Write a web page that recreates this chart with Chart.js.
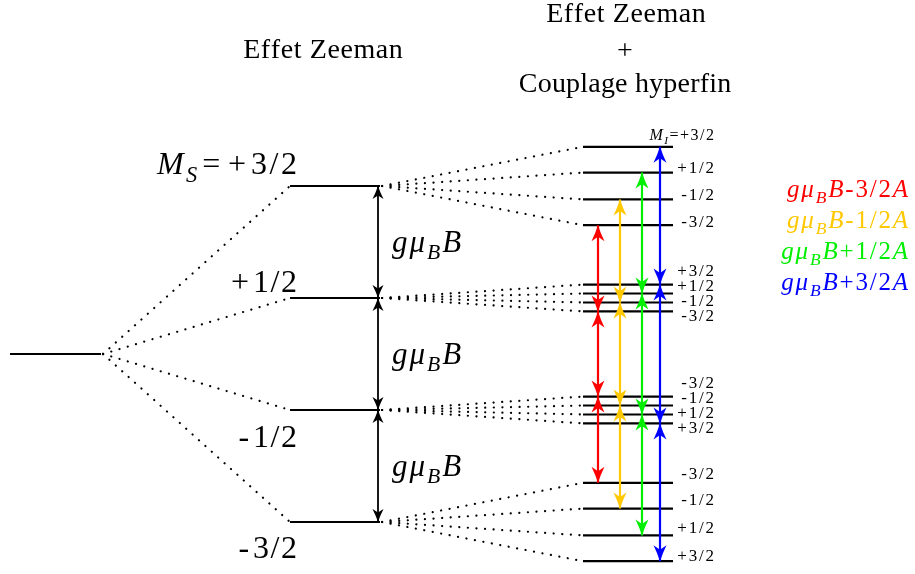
<!DOCTYPE html>
<html>
<head>
<meta charset="utf-8">
<script src="https://cdn.jsdelivr.net/npm/chart.js@4.4.0/dist/chart.umd.min.js"></script>
<style>
  body { margin: 0; background: #fff; }
  #wrap { width: 915px; height: 574px; position: relative; }
</style>
</head>
<body>
<div id="wrap"><canvas id="levels"></canvas></div>
<script>
// energies in units of g.muB.B, 0 = level without field
const msLabels = ['+3/2', '+1/2', '-1/2', '-3/2'];
const msEnergy = [1.5, 0.5, -0.5, -1.5];

// hyperfine sublevels of each Ms, top to bottom
const hfLabels = [
  ['+3/2', '+1/2', '-1/2', '-3/2'],
  ['+3/2', '+1/2', '-1/2', '-3/2'],
  ['-3/2', '-1/2', '+1/2', '+3/2'],
  ['-3/2', '-1/2', '+1/2', '+3/2']
];
const hfEnergy = [
  [1.85, 1.62, 1.38, 1.15],
  [0.62, 0.54, 0.46, 0.38],
  [-0.38, -0.46, -0.54, -0.62],
  [-1.15, -1.38, -1.62, -1.85]
];

// transitions, one colour per M_I
const transMI = ['-3/2', '-1/2', '+1/2', '+3/2'];
const transText = ['-3/2', '-1/2', '+1/2', '+3/2'];
const transColors = ['#ff0000', '#ffc800', '#00ee00', '#0000ff'];

// layout (pixels)
const X = { ground: [10, 101], ms: [290, 380], hf: [583, 673], zArrow: 378, hfText: 714, tArrow: [598, 620, 642, 660] };
const FONT = '"Liberation Serif", "Times New Roman", serif';

const pt = (x, y) => ({ x: x, y: y });
const datasets = [];
const line = (data, color, extra) => datasets.push(Object.assign({
  data: data, showLine: true, borderColor: color, borderWidth: 2.2, pointRadius: 0, fill: false, order: 1
}, extra || {}));

// levels
line([pt(X.ground[0], 0), pt(X.ground[1], 0)], '#000');
msEnergy.forEach(e => line([pt(X.ms[0], e), pt(X.ms[1], e)], '#000'));
hfEnergy.forEach(g => g.forEach(e => line([pt(X.hf[0], e), pt(X.hf[1], e)], '#000')));

// dotted correlation lines
const dots = { borderWidth: 2.2, borderDash: [0.1, 8.5], borderCapStyle: 'round', order: 2 };
msEnergy.forEach(e => line([pt(X.ground[1] + 2, 0), pt(X.ms[0], e)], '#000', dots));
msEnergy.forEach((e, i) => hfEnergy[i].forEach(h => line([pt(X.ms[1] + 2, e), pt(X.hf[0], h)], '#000', dots)));

// Zeeman arrows
for (let i = 0; i < msEnergy.length - 1; i++) {
  line([pt(X.zArrow, msEnergy[i]), pt(X.zArrow, msEnergy[i + 1])], '#000',
    { borderWidth: 1.8, order: 0, head: { len: 13, wid: 11, notch: 3.5 } });
}
// hyperfine transitions
transMI.forEach((mi, k) => {
  const ys = hfEnergy.map((g, gi) => g[hfLabels[gi].indexOf(mi)]);
  for (let g = 0; g < ys.length - 1; g++) {
    line([pt(X.tArrow[k], ys[g]), pt(X.tArrow[k], ys[g + 1])], transColors[k],
      { borderWidth: 2.2, order: 0, head: { len: 16, wid: 13, notch: 4.5 } });
  }
});

// text with italics and subscripts
function rich(ctx, parts, x, y, o) {
  const size = o.size, ls = o.ls || 0;
  const segs = [];
  let w = 0;
  parts.forEach(p => {
    const t = typeof p === 'string' ? p : p[0];
    const st = typeof p === 'string' ? '' : p[1];
    const sub = st.indexOf('s') >= 0;
    const fs = sub ? size * 0.7 : size;
    const font = (st.indexOf('i') >= 0 ? 'italic ' : '') + fs + 'px ' + FONT;
    const pad = st.indexOf('p') >= 0 ? size * 0.08 : 0;
    ctx.font = font;
    for (const ch of t) {
      w += pad;
      segs.push({ ch: ch, font: font, dx: w, dy: sub ? size * 0.24 : 0 });
      w += ctx.measureText(ch).width + ls + pad;
    }
  });
  w -= ls;
  const x0 = o.align === 'right' ? x - w : o.align === 'center' ? x - w / 2 : x;
  ctx.fillStyle = o.color || '#000';
  ctx.textAlign = 'left';
  ctx.textBaseline = 'alphabetic';
  segs.forEach(s => { ctx.font = s.font; ctx.fillText(s.ch, x0 + s.dx, y + s.dy); });
}

const arrowHeads = {
  id: 'arrowHeads',
  afterDatasetsDraw(chart) {
    const ctx = chart.ctx;
    chart.data.datasets.forEach((ds, i) => {
      if (!ds.head) return;
      const pts = chart.getDatasetMeta(i).data;
      const ends = [[pts[0], pts[1]], [pts[1], pts[0]]];
      ends.forEach(([tip, from]) => {
        const a = Math.atan2(tip.y - from.y, tip.x - from.x);
        const h = ds.head;
        ctx.save();
        ctx.translate(tip.x, tip.y);
        ctx.rotate(a);
        ctx.beginPath();
        ctx.moveTo(0, 0);
        ctx.quadraticCurveTo(-h.len * 0.5, -h.wid * 0.2, -h.len, -h.wid / 2);
        ctx.lineTo(-h.len + h.notch, 0);
        ctx.lineTo(-h.len, h.wid / 2);
        ctx.quadraticCurveTo(-h.len * 0.5, h.wid * 0.2, 0, 0);
        ctx.closePath();
        ctx.fillStyle = ds.borderColor;
        ctx.fill();
        ctx.restore();
      });
    });
  }
};

const labels = {
  id: 'labels',
  afterDraw(chart) {
    const ctx = chart.ctx;
    const ys = v => chart.scales.y.getPixelForValue(v);
    ctx.save();
    // titles
    rich(ctx, ['Effet Zeeman'], 323, 58, { size: 28, align: 'center', ls: 0.6 });
    rich(ctx, ['Effet Zeeman'], 626, 22, { size: 28, align: 'center', ls: 0.6 });
    rich(ctx, ['+'], 625, 59, { size: 28, align: 'center' });
    rich(ctx, ['Couplage hyperfin'], 625, 92, { size: 28, align: 'center', ls: 0.2 });

    // Ms labels
    const msOff = [-12, -6, 37, 36];
    msLabels.forEach((t, i) => {
      const parts = i === 0 ? [['M', 'i'], ['S', 'si'], ['=', 'p'], ['+', 'p'], t.slice(1)] : [[t[0], 'p'], t.slice(1)];
      rich(ctx, parts, 297, ys(msEnergy[i]) + msOff[i], { size: 32, align: 'right', ls: i === 0 ? 2.5 : 1.5 });
    });

    // g muB B
    for (let i = 0; i < msEnergy.length - 1; i++) {
      const yc = (ys(msEnergy[i]) + ys(msEnergy[i + 1])) / 2;
      rich(ctx, [['g', 'i'], ['\u03bc', 'i'], ['B', 'si'], ['B', 'i']], 392, yc + 10, { size: 31, ls: 2 });
    }

    // hyperfine labels
    hfLabels.forEach((g, gi) => {
      g.forEach((t, j) => {
        let y;
        if (gi === 1 || gi === 2) y = ys(msEnergy[gi]) + [-22, -7, 8, 23][j];
        else y = ys(hfEnergy[gi][j]) + (gi === 0 ? [-7, 0, 1, 2] : [-4, -4, -2, 0])[j];
        const top = gi === 0 && j === 0;
        const parts = top ? [['M', 'i'], ['I', 'si'], '=', t] : [t];
        rich(ctx, parts, X.hfText, y, { size: top ? 16 : 17, align: 'right', ls: top ? 1.5 : 1.8 });
      });
    });

    // transition legend
    const legY = [197, 228, 259, 290];
    transText.forEach((t, k) => {
      rich(ctx, [['g', 'i'], ['\u03bc', 'i'], ['B', 'si'], ['B', 'i'], t, ['A', 'i']], 908, legY[k],
        { size: 25, align: 'right', ls: 1.8, color: transColors[k] });
    });
    ctx.restore();
  }
};

new Chart(document.getElementById('levels'), {
  type: 'scatter',
  data: { datasets: datasets },
  options: {
    responsive: true,
    maintainAspectRatio: false,
    animation: false,
    layout: { padding: 0 },
    plugins: { legend: { display: false }, tooltip: { enabled: false } },
    scales: {
      x: { type: 'linear', min: 0, max: 915, display: false },
      y: { type: 'linear', min: -220 / 112, max: 354 / 112, display: false }
    }
  },
  plugins: [arrowHeads, labels]
});
</script>
</body>
</html>
